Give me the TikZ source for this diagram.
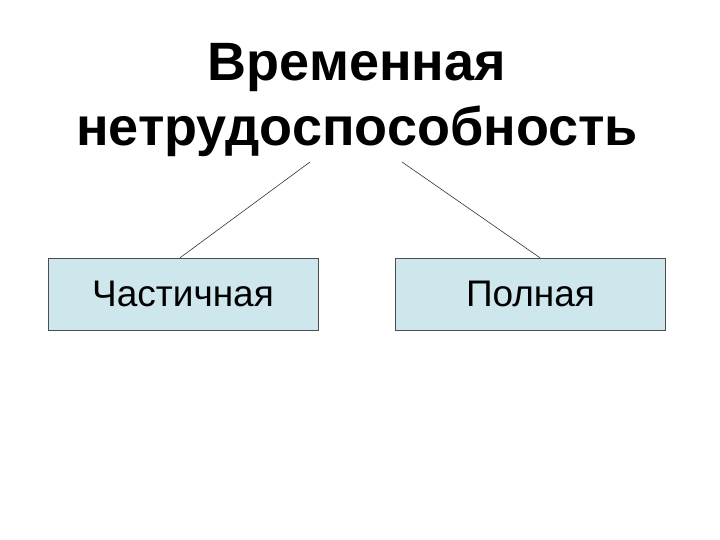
\documentclass[tikz,border=0pt]{standalone}
\usepackage{fontspec}
\setmainfont{Liberation Sans}
\begin{document}
\begin{tikzpicture}[x=1pt,y=-1pt,
  box/.style={draw=black!70,fill=boxfill,minimum width=270pt,minimum height=72pt,inner sep=0pt,font=\fontsize{37}{42}\selectfont},
  title/.style={align=center,font=\bfseries\fontsize{54}{65}\selectfont},
  link/.style={draw=black!80,line width=0.6pt}]
\definecolor{boxfill}{HTML}{CDE7EC}
\useasboundingbox (0,0) rectangle (720,540);
\node[title] (t) at (357,100) {Временная\\нетрудоспособность};
\node[box] (l) at (183,294) {Частичная};
\node[box] (r) at (530.5,294) {Полная};
\coordinate (t1) at (310,162);
\coordinate (t2) at (402,162);
\draw[link] (t1) -- (l.north -| 180,0);
\draw[link] (t2) -- (r.north -| 540,0);
\end{tikzpicture}
\end{document}
